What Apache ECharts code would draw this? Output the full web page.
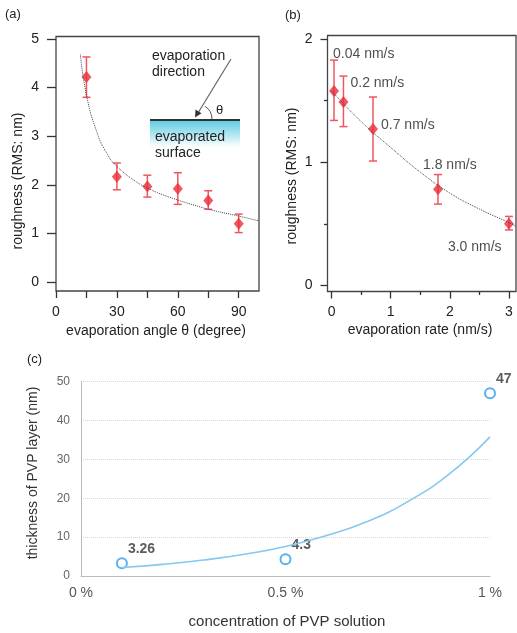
<!DOCTYPE html>
<html>
<head>
<meta charset="utf-8">
<script src="https://cdn.jsdelivr.net/npm/echarts@6/dist/echarts.min.js"></script>
<style>
  html, body { margin: 0; padding: 0; background: #fff; }
  #chart { width: 517px; height: 633px; }
</style>
</head>
<body>
<div id="chart"></div>
<script>
// (a) roughness vs evaporation angle
const angleDeg = [15, 30, 45, 60, 75, 90]
const roughAngle = [4.22, 2.17, 1.97, 1.92, 1.68, 1.2]
const roughAngleHi = [4.63, 2.45, 2.2, 2.25, 1.88, 1.4]
const roughAngleLo = [3.8, 1.9, 1.75, 1.6, 1.5, 1.02]
const angleFitX = [12, 15, 20, 25, 30, 40, 45, 50, 60, 70, 75, 80, 90, 100]
const angleFitY = [4.68, 3.85, 3.1, 2.65, 2.38, 2.05, 1.94, 1.84, 1.69, 1.56, 1.5, 1.45, 1.36, 1.26]

// (b) roughness vs evaporation rate
const rateNm = [0.04, 0.2, 0.7, 1.8, 3.0]
const roughRate = [1.58, 1.49, 1.27, 0.78, 0.5]
const roughRateHi = [1.83, 1.7, 1.53, 0.9, 0.56]
const roughRateLo = [1.34, 1.29, 1.01, 0.66, 0.45]
const rateLabels = ['0.04 nm/s', '0.2 nm/s', '0.7 nm/s', '1.8 nm/s', '3.0 nm/s']
const rateFitX = [0, 0.5, 1, 1.5, 2, 2.5, 3, 3.12]
const rateFitY = [1.58, 1.33, 1.12, 0.92, 0.75, 0.62, 0.51, 0.48]

// (c) PVP layer thickness vs concentration
const concPct = [0.1, 0.5, 1.0]
const thickness = [3.26, 4.3, 47]
const concTicks = ['0 %', '0.5 %', '1 %']
const concFitX = [0.1, 0.2, 0.3, 0.4, 0.5, 0.6, 0.7, 0.8, 0.9, 1.0]
const concFitY = [2.2, 3.0, 4.1, 5.6, 7.6, 10.4, 14.0, 19.2, 26.2, 35.8]

const FONT = '"Liberation Sans", Arial, sans-serif'
const RED = '#ec2d38'
const RED_BAR = '#ee5762'
const BLUE = '#2f9fe8'

// label offsets for the rate annotations (px from the point)
const rateLabelOffsets = [[-1, -37], [7, -19], [8, -4], [-15, -24], [-61, 23]]

function errorBars(x, hi, lo) {
  return x.map((v, i) => [v, hi[i], lo[i]])
}

function renderErrorBar(params, api) {
  const x = api.value(0)
  const top = api.coord([x, api.value(1)])
  const bot = api.coord([x, api.value(2)])
  const w = 4
  const style = { stroke: RED_BAR, lineWidth: 1.5 }
  return {
    type: 'group',
    children: [
      { type: 'line', shape: { x1: top[0], y1: top[1], x2: bot[0], y2: bot[1] }, style },
      { type: 'line', shape: { x1: top[0] - w, y1: top[1], x2: top[0] + w, y2: top[1] }, style },
      { type: 'line', shape: { x1: bot[0] - w, y1: bot[1], x2: bot[0] + w, y2: bot[1] }, style }
    ]
  }
}

const tickLabel = { color: '#222', fontSize: 14, fontFamily: FONT }
const noLine = { show: false, onZero: false }
const tickStyle = { color: '#333', width: 1.3 }

const chart = echarts.init(document.getElementById('chart'))

const option = {
  animation: false,
  textStyle: { fontFamily: FONT },
  grid: [
    { left: 56, top: 36.5, width: 203, height: 254.5, show: true, borderColor: '#444', borderWidth: 1.3 },
    { left: 327.5, top: 35.5, width: 188.5, height: 256, show: true, borderColor: '#444', borderWidth: 1.3 },
    { left: 81, top: 381.7, width: 409, height: 194.3 }
  ],
  xAxis: [
    {
      gridIndex: 0, type: 'value', min: 0, max: 100, position: 'bottom',
      axisLine: noLine,
      axisTick: { customValues: [0, 15, 30, 45, 60, 75, 90], length: 7, lineStyle: tickStyle },
      axisLabel: { ...tickLabel, customValues: [0, 30, 60, 90], margin: 14 },
      splitLine: { show: false }
    },
    {
      gridIndex: 1, type: 'value', min: -0.07, max: 3.12, position: 'bottom',
      axisLine: noLine,
      axisTick: { customValues: [0, 1, 2, 3], length: 7, lineStyle: tickStyle },
      axisLabel: { ...tickLabel, customValues: [0, 1, 2, 3], margin: 14 },
      splitLine: { show: false }
    },
    {
      gridIndex: 1, type: 'value', min: -0.07, max: 3.12, position: 'bottom',
      axisLine: noLine,
      axisTick: { customValues: [0.5, 1.5, 2.5], length: 3.5, lineStyle: tickStyle },
      axisLabel: { show: false },
      splitLine: { show: false }
    },
    {
      gridIndex: 2, type: 'value', min: 0, max: 1, interval: 0.5,
      axisLine: { onZero: false, lineStyle: { color: '#bbb', width: 1 } },
      axisTick: { show: false },
      axisLabel: {
        color: '#555', fontSize: 14, fontFamily: FONT, margin: 10,
        formatter: v => concTicks[Math.round(v * 2)]
      },
      splitLine: { show: false }
    }
  ],
  yAxis: [
    {
      gridIndex: 0, type: 'value', min: -0.18, max: 5.05, position: 'left',
      axisLine: noLine,
      axisTick: { customValues: [0, 1, 2, 3, 4, 5], length: 9, lineStyle: tickStyle },
      axisLabel: { ...tickLabel, customValues: [0, 1, 2, 3, 4, 5], margin: 17 },
      splitLine: { show: false }
    },
    {
      gridIndex: 1, type: 'value', min: -0.05, max: 2.03, position: 'left',
      axisLine: noLine,
      axisTick: { customValues: [0, 1, 2], length: 7, lineStyle: tickStyle },
      axisLabel: { ...tickLabel, customValues: [0, 1, 2], margin: 15 },
      splitLine: { show: false }
    },
    {
      gridIndex: 1, type: 'value', min: -0.05, max: 2.03, position: 'left',
      axisLine: noLine,
      axisTick: { customValues: [0.5, 1.5], length: 3.5, lineStyle: tickStyle },
      axisLabel: { show: false },
      splitLine: { show: false }
    },
    {
      gridIndex: 2, type: 'value', min: 0, max: 50, interval: 10,
      axisLine: { show: true, onZero: false, lineStyle: { color: '#bbb', width: 1 } },
      axisTick: { show: false },
      axisLabel: { color: '#666', fontSize: 12, fontFamily: FONT, margin: 11 },
      splitLine: { lineStyle: { color: '#d6d6d6', type: 'dotted' } }
    }
  ],
  series: [
    // (a)
    {
      type: 'line', xAxisIndex: 0, yAxisIndex: 0, smooth: true, showSymbol: false,
      data: angleFitX.map((x, i) => [x, angleFitY[i]]),
      lineStyle: { color: '#444', width: 1, type: 'dotted' }
    },
    {
      type: 'custom', xAxisIndex: 0, yAxisIndex: 0,
      data: errorBars(angleDeg, roughAngleHi, roughAngleLo),
      renderItem: renderErrorBar
    },
    {
      type: 'scatter', xAxisIndex: 0, yAxisIndex: 0, symbol: 'diamond', symbolSize: [10, 12],
      data: angleDeg.map((x, i) => [x, roughAngle[i]]),
      itemStyle: { color: RED }
    },
    // (b)
    {
      type: 'line', xAxisIndex: 1, yAxisIndex: 1, smooth: true, showSymbol: false,
      data: rateFitX.map((x, i) => [x, rateFitY[i]]),
      lineStyle: { color: '#444', width: 1, type: 'dotted' }
    },
    {
      type: 'custom', xAxisIndex: 1, yAxisIndex: 1,
      data: errorBars(rateNm, roughRateHi, roughRateLo),
      renderItem: renderErrorBar
    },
    {
      type: 'scatter', xAxisIndex: 1, yAxisIndex: 1, symbol: 'diamond', symbolSize: [10, 12],
      data: rateNm.map((x, i) => ({
        value: [x, roughRate[i]],
        label: {
          show: true, formatter: rateLabels[i], position: 'inside', align: 'left',
          verticalAlign: 'middle', offset: rateLabelOffsets[i],
          color: '#222', fontSize: 14, fontFamily: FONT
        }
      })),
      itemStyle: { color: RED }
    },
    // (c)
    {
      type: 'line', xAxisIndex: 3, yAxisIndex: 3, smooth: true, showSymbol: false,
      data: concFitX.map((x, i) => [x, concFitY[i]]),
      lineStyle: { color: '#86c8f0', width: 1.6 }
    },
    {
      type: 'scatter', xAxisIndex: 3, yAxisIndex: 3, symbol: 'circle', symbolSize: 10,
      data: concPct.map((x, i) => [x, thickness[i]]),
      itemStyle: { color: '#fff', borderColor: BLUE, borderWidth: 2 },
      label: {
        show: true, formatter: p => String(p.value[1]), position: 'inside', align: 'left',
        verticalAlign: 'middle', offset: [6, -14],
        color: '#333', fontSize: 14, fontWeight: 'bold', fontFamily: FONT
      }
    }
  ],
  graphic: [
    // panel tags
    { type: 'text', left: 5, top: 8, style: { text: '(a)', font: '13px ' + FONT, fill: '#222' } },
    { type: 'text', left: 285, top: 9, style: { text: '(b)', font: '13px ' + FONT, fill: '#222' } },
    { type: 'text', left: 27, top: 353, style: { text: '(c)', font: '13px ' + FONT, fill: '#222' } },
    // axis titles
    { type: 'text', x: 18, y: 181, rotation: Math.PI / 2, style: { text: 'roughness (RMS: nm)', font: '14px ' + FONT, fill: '#222', align: 'center', verticalAlign: 'middle' } },
    { type: 'text', x: 156, y: 331, style: { text: 'evaporation angle θ (degree)', font: '14px ' + FONT, fill: '#222', align: 'center', verticalAlign: 'middle' } },
    { type: 'text', x: 292, y: 176, rotation: Math.PI / 2, style: { text: 'roughness (RMS: nm)', font: '14px ' + FONT, fill: '#222', align: 'center', verticalAlign: 'middle' } },
    { type: 'text', x: 420, y: 330, style: { text: 'evaporation rate (nm/s)', font: '14px ' + FONT, fill: '#222', align: 'center', verticalAlign: 'middle' } },
    { type: 'text', x: 33, y: 473, rotation: Math.PI / 2, style: { text: 'thickness of PVP layer (nm)', font: '14px ' + FONT, fill: '#333', align: 'center', verticalAlign: 'middle' } },
    { type: 'text', x: 287, y: 622, style: { text: 'concentration of PVP solution', font: '15px ' + FONT, fill: '#333', align: 'center', verticalAlign: 'middle' } },
    // inset sketch in (a)
    {
      type: 'rect', shape: { x: 150, y: 120, width: 90, height: 30 },
      style: {
        fill: new echarts.graphic.LinearGradient(0, 0, 0, 1, [
          { offset: 0, color: '#5ccbe2' },
          { offset: 0.7, color: '#d8f2f8' },
          { offset: 1, color: 'rgba(255,255,255,0)' }
        ])
      }
    },
    { type: 'line', shape: { x1: 150, y1: 120, x2: 240, y2: 120 }, style: { stroke: '#333', lineWidth: 2 } },
    { type: 'line', shape: { x1: 231, y1: 59, x2: 198, y2: 113 }, style: { stroke: '#666', lineWidth: 1.2 } },
    { type: 'polygon', shape: { points: [[195, 117.5], [195.5, 109.5], [201.5, 113.2]] }, style: { fill: '#333' } },
    { type: 'arc', shape: { cx: 197, cy: 119, r: 15, startAngle: -1.02, endAngle: 0, clockwise: true }, style: { stroke: '#555', lineWidth: 1, fill: null } },
    { type: 'text', x: 216, y: 110, style: { text: 'θ', font: '13px ' + FONT, fill: '#222', align: 'left', verticalAlign: 'middle' } },
    { type: 'text', x: 152, y: 56, style: { text: 'evaporation', font: '14px ' + FONT, fill: '#222', verticalAlign: 'middle' } },
    { type: 'text', x: 152, y: 72, style: { text: 'direction', font: '14px ' + FONT, fill: '#222', verticalAlign: 'middle' } },
    { type: 'text', x: 155, y: 137, style: { text: 'evaporated', font: '14px ' + FONT, fill: '#222', verticalAlign: 'middle' } },
    { type: 'text', x: 155, y: 153, style: { text: 'surface', font: '14px ' + FONT, fill: '#222', verticalAlign: 'middle' } }
  ]
}

chart.setOption(option)
</script>
</body>
</html>
